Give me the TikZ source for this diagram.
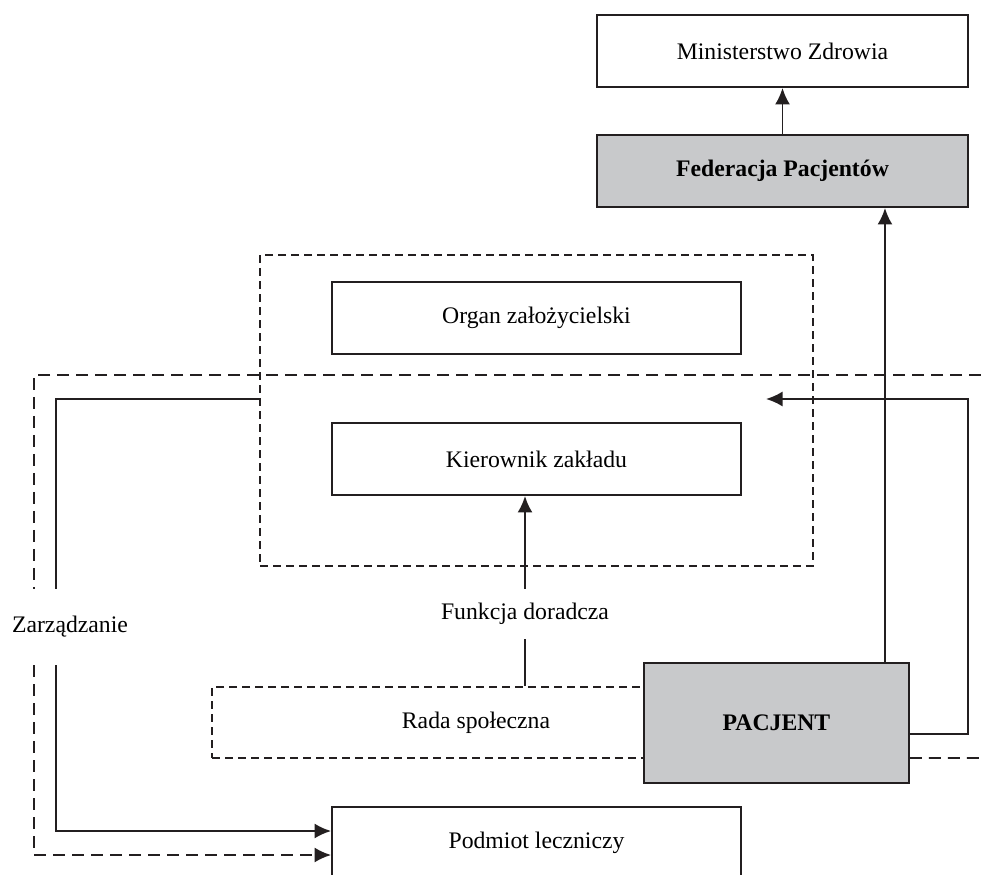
\documentclass[tikz,border=0pt]{standalone}
\usepackage{fontspec}
\setmainfont{Liberation Serif}
\usepackage{tikz}
\usetikzlibrary{arrows.meta}
\definecolor{boxgray}{HTML}{C8C9CB}
\definecolor{ink}{HTML}{231F20}
\newcommand{\diagfont}{\fontsize{13.5}{16}\selectfont}

\begin{document}
\begin{tikzpicture}[x=0.02cm,y=-0.02cm]
		\tikzstyle{box}=[rectangle, draw=ink, line width=1.1pt, fill=white, inner sep=0pt, font=\diagfont]
		\tikzstyle{govbox}=[box, minimum width=7.42cm, minimum height=1.44cm]
		\tikzstyle{unitbox}=[box, minimum width=8.18cm, minimum height=1.44cm]
		\tikzstyle{caption}=[inner sep=0pt, font=\diagfont]
		\tikzstyle{link}=[draw=ink, line width=1.1pt]
		\tikzstyle{connect}=[link, -{Latex[length=3.3mm,width=3mm]}]
		\tikzstyle{longdash}=[link, dash pattern=on 0.24cm off 0.14cm]
		\tikzstyle{shortdash}=[link, dash pattern=on 0.16cm off 0.1cm]
		\useasboundingbox (0,0) rectangle (981,875);
		\clip (0,0) rectangle (981,875);
		\node[govbox] (mz) at (782.5,51) {Ministerstwo Zdrowia};
		\node[govbox, fill=boxgray, font=\diagfont\bfseries] (fp) at (782.5,171) {Federacja Pacjentów};
			\node[shortdash, rectangle, minimum width=11.06cm, minimum height=6.22cm] (zakl) at (536.5,410.5) {};
			\node[unitbox] (oz) at (536.5,318) {Organ założycielski};
			\node[unitbox] (kz) at (536.5,459) {Kierownik zakładu};
				\node[shortdash, rectangle, minimum width=8.64cm, minimum height=1.42cm, label={[caption, xshift=0.96cm]center:Rada społeczna}] (rada) at (428,722.5) {};
				\node[box, fill=boxgray, minimum width=5.3cm, minimum height=2.4cm, font=\diagfont\bfseries] (pac) at (776.5,723) {PACJENT};
				\node[caption, minimum height=1cm] (fd) at (525,614) {Funkcja doradcza};
					\node[unitbox] (pl) at (536.5,843) {Podmiot leczniczy};
					\node[caption, minimum height=1.52cm] (zr) at (70,627) {Zarządzanie};
		\coordinate (ret) at (766,399);
		\coordinate (turn) at (968,399);
		\coordinate (edgetop) at (981,375);
		\coordinate (edgebot) at (981,758);

		\draw[connect] (fp.north) -- (mz.south);
		\draw[connect] ([xshift=2.17cm]pac.north) -- ([xshift=2.17cm]pac.north |- fp.south);
		\draw[link] (fd |- rada.north) -- (fd.south);
		\draw[connect] (fd.north) -- (fd |- kz.south);
		\draw[connect] ([yshift=-0.22cm]pac.east) -| (turn) -- (ret);
		\draw[longdash] ([yshift=-0.7cm]pac.east) -- (edgebot);
			\draw[link] (zakl.west |- ret) -| ([xshift=-0.28cm]zr.north);
			\draw[connect] ([xshift=-0.28cm]zr.south) |- ([yshift=0.24cm]pl.west);
			\draw[longdash] (edgetop) -| ([xshift=-0.72cm]zr.north);
			\draw[longdash, -{Latex[length=3.3mm,width=3mm]}] ([xshift=-0.72cm]zr.south) |- ([yshift=-0.24cm]pl.west);
\end{tikzpicture}
\end{document}
